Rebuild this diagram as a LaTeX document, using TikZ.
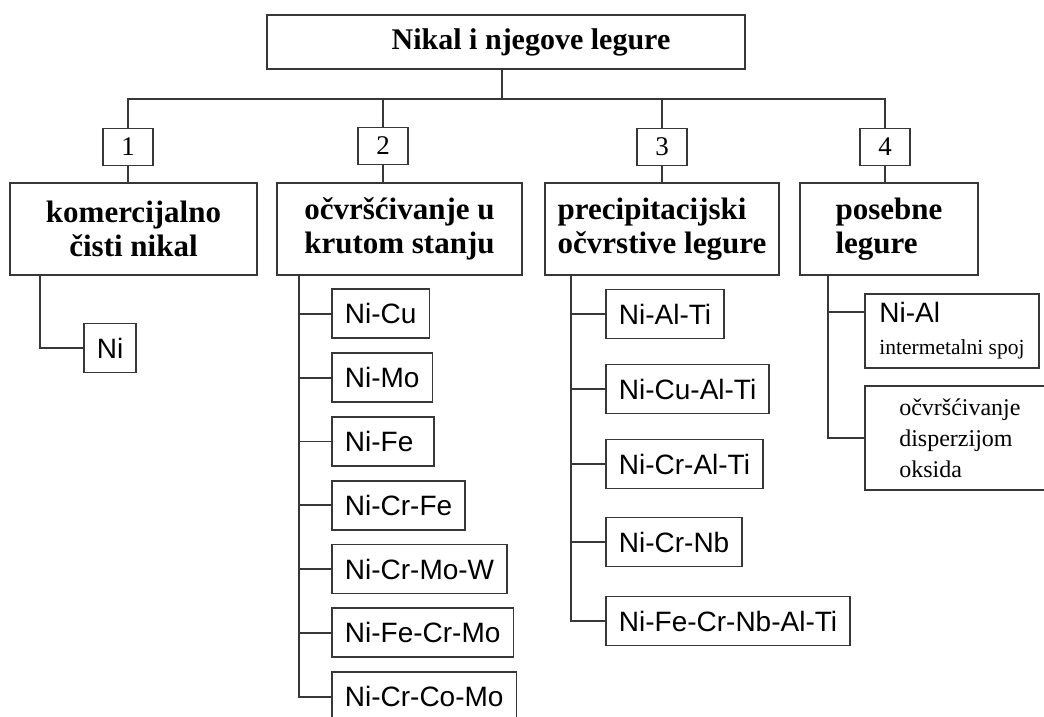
\documentclass[tikz,border=0pt]{standalone}
\usepackage{fontspec}
\setmainfont{Liberation Serif}
\newfontfamily\leaffont{Liberation Sans}
\definecolor{linegray}{RGB}{55,55,55}
\tikzset{
  box/.style={draw=linegray,line width=1.8pt,inner sep=0pt},
  rootbox/.style={box,minimum width=478pt,minimum height=54pt,font=\fontsize{30}{34}\selectfont\bfseries},
  numbox/.style={box,minimum width=50pt,minimum height=37pt,font=\fontsize{27}{30}\selectfont},
  catbox/.style={box,minimum height=92pt,font=\fontsize{31}{34}\selectfont\bfseries},
  leafbox/.style={box,anchor=west,inner xsep=13pt,minimum height=49pt,font=\fontsize{28}{32}\selectfont\leaffont},
  wire/.style={draw=linegray,line width=1.8pt}
}

\begin{document}
\begin{tikzpicture}[x=1pt,y=-1pt]
  \useasboundingbox (0,0) rectangle (1044,716);
  % root and first level
  \node[rootbox] (root) at (506,42) {\hspace*{50pt}Nikal i njegove legure};
  \coordinate (bus) at (502,99);
  \node[numbox] (n1) at (128,147) {1};
  \node[numbox] (n2) at (383,146) {2};
  \node[numbox] (n3) at (662,147) {3};
  \node[numbox] (n4) at (885,147) {4};
  \node[catbox,minimum width=247pt,align=center] (c1) at (133.5,229) {komercijalno\\čisti nikal};
  \node[catbox,minimum width=245pt,align=center] (c2) at (399.5,229) {očvršćivanje u\\krutom stanju};
  \node[catbox,minimum width=234pt,align=left] (c3) at (662,229) {precipitacijski\\očvrstive legure};
  \node[catbox,minimum width=178pt,align=left] (c4) at (889,229) {posebne\\legure};
  \draw[wire] (root.south -| bus) -- (bus);
  \foreach \i in {1,...,4} {
    \draw[wire] (n\i.north) |- (bus);
    \draw[wire] (n\i.south) -- (n\i.south |- c\i.north);
  }

  % leaves
  \coordinate (s1) at ([xshift=31pt]c1.south west);
  \coordinate (s2) at ([xshift=23pt]c2.south west);
  \coordinate (s3) at ([xshift=27pt]c3.south west);
  \coordinate (s4) at ([xshift=29pt]c4.south west);
  \node[leafbox] (ni) at (83,348) {Ni};
  \draw[wire] (s1) |- (ni.west);
  \foreach \txt [count=\k] in {Ni-Cu,Ni-Mo,Ni-Fe\hspace*{8pt},Ni-Cr-Fe,Ni-Cr-Mo-W,Ni-Fe-Cr-Mo,Ni-Cr-Co-Mo} {
    \node[leafbox] (b\k) at (331,{250+63.8*\k}) {\txt};
    \draw[wire] (s2) |- (b\k.west);
  }
  \foreach \txt/\yy [count=\k] in {Ni-Al-Ti/314,Ni-Cu-Al-Ti/389,Ni-Cr-Al-Ti/464,Ni-Cr-Nb/542,Ni-Fe-Cr-Nb-Al-Ti/621} {
    \node[leafbox] (p\k) at (605,\yy) {\txt};
    \draw[wire] (s3) |- (p\k.west);
  }
  \node[box,anchor=west,minimum width=174pt,minimum height=74pt,align=left,font=\fontsize{21.5}{32}\selectfont] (nial) at (864,331)
    {{\leaffont\fontsize{28}{32}\selectfont Ni-Al}\\intermetalni spoj};
  \node[box,anchor=west,minimum width=190pt,minimum height=104pt,align=left,font=\fontsize{24}{31}\selectfont] (disp) at (864,438)
    {očvršćivanje\\disperzijom\\oksida};
  \draw[wire] (s4) |- ([yshift=19pt]nial.west);
  \draw[wire] (s4) |- (disp.west);
\end{tikzpicture}
\end{document}
